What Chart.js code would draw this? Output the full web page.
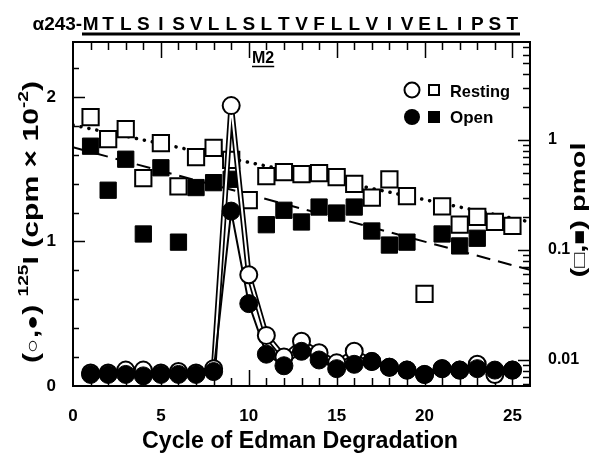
<!DOCTYPE html>
<html>
<head>
<meta charset="utf-8">
<script src="https://cdn.jsdelivr.net/npm/chart.js@4.4.1/dist/chart.umd.min.js"></script>
<style>
html,body{margin:0;padding:0;background:#fff;}
#c{display:block;}
</style>
</head>
<body>
<canvas id="c" width="604" height="467"></canvas>
<script>
// ---------------- data ----------------
const cycles = [1,2,3,4,5,6,7,8,9,10,11,12,13,14,15,16,17,18,19,20,21,22,23,24,25];
const residues = ['M','T','L','S','I','S','V','L','L','S','L','T','V','F','L','L','V','I','V','E','L','I','P','S','T'];
const residuePrefix = 'α243-';
// 125I cpm x 10^-2 (left axis)
const restingCpm = [0.09,0.09,0.11,0.11,0.09,0.10,0.09,0.12,1.94,0.77,0.35,0.20,0.31,0.23,0.16,0.24,0.17,0.13,0.11,0.08,0.12,0.11,0.15,0.08,0.11];
const openCpm    = [0.08,0.08,0.08,0.07,0.08,0.08,0.08,0.10,1.21,0.57,0.22,0.14,0.24,0.18,0.12,0.15,0.17,0.13,0.11,0.08,0.12,0.11,0.12,0.11,0.11];
// pmol (right log axis)
const restingPmol = [1.62,1.02,1.26,0.45,0.94,0.38,0.70,0.85,0.66,0.285,0.47,0.51,0.49,0.50,0.46,0.40,0.30,0.44,0.31,0.04,0.25,0.17,0.20,0.18,0.166];
const openPmol    = [0.88,0.35,0.67,0.14,0.56,0.118,0.37,0.41,0.44,null,0.17,0.23,0.18,0.246,0.217,0.246,0.149,0.111,0.118,null,0.14,0.109,0.128,null,null];
// exponential fits (pmol)
const fitCycles = [0, 26];
const restingFitPmol = [1.37, 0.18];
const openFitPmol = [0.86, 0.066];
const xTicks = [0, 5, 10, 15, 20, 25];
const leftTicks = [0, 1, 2];
const rightTicks = [0.01, 0.1, 1];

const pts = (xs, ys) => xs.map((x, i) => ({x: x, y: ys[i]})).filter(p => p.y !== null);

const FONT = '"Liberation Sans", Arial, Helvetica, sans-serif';

// ---------------- helpers ----------------
function drawRuns(ctx, runs, cx, cy, angle, targetW) {
  ctx.save();
  ctx.translate(cx, cy);
  ctx.rotate(angle);
  let w = 0;
  runs.forEach(r => { ctx.font = 'bold ' + r.s + 'px ' + FONT; r.w = ctx.measureText(r.t).width; w += r.w; });
  let sc = targetW ? targetW / w : 1;
  ctx.scale(sc, 1);
  let x = -w / 2;
  ctx.textBaseline = 'alphabetic';
  ctx.textAlign = 'left';
  ctx.fillStyle = '#000';
  runs.forEach(r => {
    ctx.font = 'bold ' + r.s + 'px ' + FONT;
    ctx.fillText(r.t, x, (r.dy || 0));
    x += r.w;
  });
  ctx.restore();
}

const framePlugin = {
  id: 'frame',
  beforeDatasetsDraw(chart) {
    const ctx = chart.ctx;
    const a = chart.chartArea;
    const xs = chart.scales.x, yl = chart.scales.y, yr = chart.scales.y2;
    ctx.save();
    ctx.strokeStyle = '#000';
    ctx.lineWidth = 1.5;
    ctx.beginPath();
    for (let i = 1; i <= 25; i++) {
      const px = Math.round(xs.getPixelForValue(i)) + 0.5;
      const len = (i % 5 === 0) ? 16 : 8;
      ctx.moveTo(px, a.bottom); ctx.lineTo(px, a.bottom - len);
      ctx.moveTo(px, a.top); ctx.lineTo(px, a.top + len);
    }
    for (let k = 1; k <= 11; k++) {
      const v = k * 0.2;
      const py = Math.round(yl.getPixelForValue(v)) + 0.5;
      const len = (k % 5 === 0) ? 12 : 6;
      ctx.moveTo(a.left, py); ctx.lineTo(a.left + len, py);
    }
    for (let e = -3; e <= 0; e++) {
      for (let m = 1; m <= 9; m++) {
        const v = m * Math.pow(10, e);
        if (v < yr.min || v > yr.max) continue;
        const py = Math.round(yr.getPixelForValue(v)) + 0.5;
        const len = (m === 1) ? 12 : 7;
        ctx.moveTo(a.right, py); ctx.lineTo(a.right - len, py);
      }
    }
    ctx.stroke();
    ctx.lineWidth = 2;
    ctx.strokeRect(a.left, a.top, a.right - a.left, a.bottom - a.top);
    ctx.restore();
  },
  afterDraw(chart) {
    const ctx = chart.ctx;
    const xs = chart.scales.x;
    ctx.save();
    ctx.fillStyle = '#000';
    ctx.strokeStyle = '#000';
    ctx.font = 'bold 19px ' + FONT;
    ctx.textBaseline = 'alphabetic';
    ctx.textAlign = 'center';
    residues.forEach((r, i) => {
      ctx.fillText(r, xs.getPixelForValue(cycles[i]), 30);
    });
    ctx.textAlign = 'right';
    const mx = xs.getPixelForValue(cycles[0]) - ctx.measureText('M').width / 2 - 0.5;
    ctx.fillText(residuePrefix, mx, 30, 50);
    ctx.lineWidth = 3;
    ctx.beginPath();
    ctx.moveTo(82, 34); ctx.lineTo(520, 34);
    ctx.stroke();
    // M2 label
    ctx.font = 'bold 16px ' + FONT;
    ctx.textAlign = 'left';
    ctx.fillText('M2', 252, 63);
    const w2 = ctx.measureText('M2').width;
    ctx.lineWidth = 1.5;
    ctx.beginPath(); ctx.moveTo(252, 66.5); ctx.lineTo(252 + w2, 66.5); ctx.stroke();
    // legend
    ctx.lineWidth = 2;
    ctx.beginPath(); ctx.arc(412, 90, 7.5, 0, Math.PI * 2); ctx.fillStyle = '#fff'; ctx.fill(); ctx.stroke();
    ctx.strokeRect(429, 85, 10, 10);
    ctx.fillStyle = '#000';
    ctx.beginPath(); ctx.arc(412, 117, 8, 0, Math.PI * 2); ctx.fill();
    ctx.fillRect(428, 111, 12, 12);
    ctx.font = 'bold 17px ' + FONT;
    ctx.fillText('Resting', 450, 97, 60);
    ctx.fillText('Open', 450, 123, 48);
    ctx.font = 'bold 24px ' + FONT;
    ctx.textAlign = 'center';
    ctx.fillText('Cycle of Edman Degradation', 300, 448, 316);
    ctx.restore();
    drawRuns(ctx, [
      {t: '(', s: 22}, {t: '○', s: 18}, {t: ',', s: 22}, {t: '●', s: 18}, {t: ')', s: 22},
      {t: ' ', s: 22}, {t: '125', s: 14, dy: -10}, {t: 'I (cpm × 10', s: 22},
      {t: '-2', s: 14, dy: -10}, {t: ')', s: 22}
    ], 38, 222, -Math.PI / 2, 282);
    drawRuns(ctx, [
      {t: '(', s: 21}, {t: '□', s: 18}, {t: ',', s: 21}, {t: '■', s: 18}, {t: ') pmol', s: 21}
    ], 585, 210, -Math.PI / 2, 135);
  }
};

const ctx = document.getElementById('c').getContext('2d');
new Chart(ctx, {
  type: 'line',
  data: {
    datasets: [
      { data: pts(fitCycles, restingFitPmol), yAxisID: 'y2', borderColor: '#000', borderWidth: 3.5,
        borderDash: [0.1, 8], borderCapStyle: 'round', pointRadius: 0, order: 20 },
      { data: pts(fitCycles, openFitPmol), yAxisID: 'y2', borderColor: '#000', borderWidth: 2,
        borderDash: [14, 8], pointRadius: 0, order: 20 },
      { data: pts(cycles, restingPmol), yAxisID: 'y2', showLine: false, pointStyle: 'rect', pointRadius: 11.5,
        pointBackgroundColor: '#fff', pointBorderColor: '#000', pointBorderWidth: 2, order: 12 },
      { data: pts(cycles, openPmol), yAxisID: 'y2', showLine: false, pointStyle: 'rect', pointRadius: 11.5,
        pointBackgroundColor: '#000', pointBorderColor: '#000', pointBorderWidth: 1, order: 11 },
      { data: pts(cycles, restingCpm), yAxisID: 'y', borderColor: '#000', borderWidth: 5.5, pointRadius: 0, tension: 0, order: 8 },
      { data: pts(cycles, restingCpm), yAxisID: 'y', borderColor: '#fff', borderWidth: 2, pointRadius: 0, tension: 0, order: 7 },
      { data: pts(cycles, openCpm), yAxisID: 'y', borderColor: '#000', borderWidth: 2, pointRadius: 0, tension: 0, order: 6 },
      { data: pts(cycles, restingCpm), yAxisID: 'y', showLine: false, pointRadius: 8.5,
        pointBackgroundColor: '#fff', pointBorderColor: '#000', pointBorderWidth: 2, order: 4 },
      { data: pts(cycles, openCpm), yAxisID: 'y', showLine: false, pointRadius: 9,
        pointBackgroundColor: '#000', pointBorderColor: '#000', pointBorderWidth: 1, order: 3 }
    ]
  },
  options: {
    responsive: false,
    animation: false,
    devicePixelRatio: 1,
    layout: { padding: { top: 42, left: 0, right: 0, bottom: 0 } },
    plugins: { legend: { display: false }, tooltip: { enabled: false } },
    scales: {
      x: {
        type: 'linear', min: 0, max: 26,
        grid: { display: false }, border: { display: false },
        ticks: { stepSize: 5, includeBounds: false, autoSkip: false, color: '#000', padding: 12,
          font: { family: FONT, size: 17, weight: 'bold' },
          callback: v => xTicks.includes(v) ? String(v) : '' },
        afterFit: s => { s.height = 81; }
      },
      y: {
        type: 'linear', position: 'left', min: 0, max: 2.38,
        grid: { display: false }, border: { display: false },
        ticks: { stepSize: 1, includeBounds: false, autoSkip: false, color: '#000', padding: 9,
          font: { family: FONT, size: 17, weight: 'bold' },
          callback: v => leftTicks.includes(v) ? String(v) : '' },
        afterFit: s => { s.width = 73; }
      },
      y2: {
        type: 'logarithmic', position: 'right', min: 0.0058, max: 7.8,
        grid: { display: false }, border: { display: false },
        ticks: { autoSkip: false, color: '#000', padding: 10,
          font: { family: FONT, size: 16, weight: 'bold' },
          callback: v => {
            const r = rightTicks.find(t => Math.abs(t - v) < t * 1e-6);
            return r !== undefined ? String(r) : '';
          } },
        afterFit: s => { s.width = 74; }
      }
    }
  },
  plugins: [framePlugin]
});
</script>
</body>
</html>
